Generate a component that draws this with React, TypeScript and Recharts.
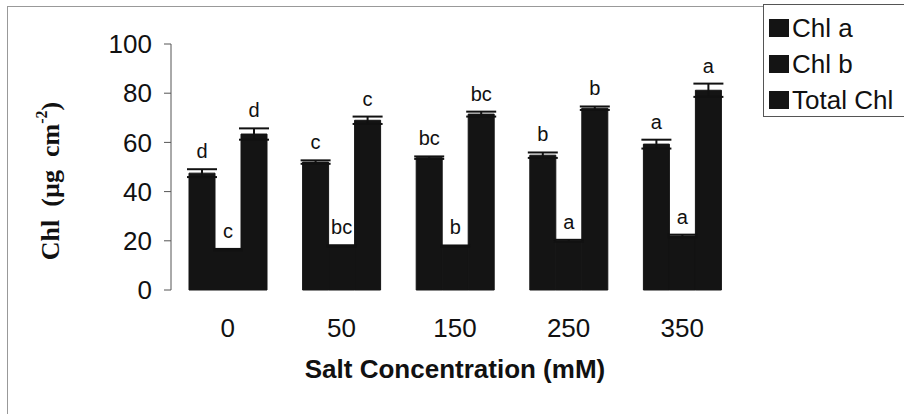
import React from "react";
import {
  BarChart,
  Bar,
  XAxis,
  YAxis,
  ErrorBar,
  LabelList,
  Legend,
  Label,
} from "recharts";

const categories = ["0", "50", "150", "250", "350"];
const chlA = [47.5, 52, 53.8, 54.8, 59.3];
const chlAErr = [1.6, 0.7, 0.5, 1.1, 1.8];
const chlB = [16.4, 17.9, 17.8, 20, 22];
const chlBErr = [0.3, 0.3, 0.3, 0.4, 0.5];
const totalChl = [63.4, 69, 71.5, 73.9, 81.2];
const totalErr = [2.3, 1.5, 1, 0.7, 2.7];
const lettersA = ["d", "c", "bc", "b", "a"];
const lettersB = ["c", "bc", "b", "a", "a"];
const lettersTotal = ["d", "c", "bc", "b", "a"];
const yTicks = [0, 20, 40, 60, 80, 100];
const edgeTicks = [0, 1, 2, 3, 4, 5];

const data = categories.map((c, i) => ({
  conc: c,
  a: chlA[i],
  aErr: chlAErr[i],
  b: chlB[i],
  bErr: chlBErr[i],
  total: totalChl[i],
  totalErr: totalErr[i],
}));

const BAR = "#141414";
const AXIS = "#555";
const FONT = "Arial, 'Liberation Sans', sans-serif";

function letterLabel(letters: string[], values: number[], errs: number[]) {
  return (props: any) => {
    const { x, y, width, height, index } = props;
    const perUnit = height / values[index];
    const top = y - errs[index] * perUnit;
    return (
      <text
        x={x + width / 2}
        y={top - 11}
        textAnchor="middle"
        fontFamily={FONT}
        fontSize={20}
        fill="#111"
      >
        {letters[index]}
      </text>
    );
  };
}

const legendItems = ["Chl a", "Chl b", "Total Chl"];

function LegendBox() {
  return (
    <div
      style={{
        width: 160,
        height: 113,
        border: "1px solid #555",
        background: "#fff",
        boxSizing: "border-box",
        paddingTop: 5,
      }}
    >
      {legendItems.map((t) => (
        <div
          key={t}
          style={{
            display: "flex",
            alignItems: "center",
            height: 36,
            fontFamily: FONT,
            fontSize: 26,
            color: "#111",
            whiteSpace: "nowrap",
          }}
        >
          <span
            style={{
              display: "inline-block",
              width: 20,
              height: 18,
              marginLeft: 5,
              marginRight: 3,
              background: BAR,
            }}
          />
          {t}
        </div>
      ))}
    </div>
  );
}

export default function App() {
  return (
    <div
      style={{
        position: "absolute",
        left: 0,
        top: 0,
        width: 904,
        height: 414,
        background: "#fff",
        overflow: "hidden",
      }}
    >
      <div
        style={{
          position: "absolute",
          left: 7,
          top: 6,
          width: 920,
          height: 430,
          border: "1px solid #999",
        }}
      />
      <div style={{ position: "absolute", left: 0, top: 0 }}>
        <BarChart
          width={904}
          height={414}
          data={data}
          margin={{ top: 44, right: 165, bottom: 24, left: 20 }}
          barCategoryGap={18}
          barGap={0}
        >
          <XAxis
            xAxisId="edge"
            type="number"
            domain={[0, 5]}
            ticks={edgeTicks}
            height={0}
            tick={false}
            stroke={AXIS}
            tickSize={7}
          />
          <XAxis
            xAxisId="cat"
            dataKey="conc"
            height={100}
            axisLine={false}
            tickLine={false}
            tickSize={0}
            tickMargin={29}
            tick={{ fontFamily: FONT, fontSize: 26, fill: "#111" }}
          >
            <Label
              value="Salt Concentration (mM)"
              position="insideBottom"
              offset={12}
              style={{
                fontFamily: FONT,
                fontSize: 26,
                fontWeight: "bold",
                fill: "#111",
              }}
            />
          </XAxis>
          <YAxis
            width={151}
            domain={[0, 100]}
            ticks={yTicks}
            stroke={AXIS}
            tickSize={7}
            tickMargin={12}
            tick={{ fontFamily: FONT, fontSize: 26, fill: "#111" }}
          >
            <Label
              content={(p: any) => {
                const vb = p.viewBox;
                const cx = vb.x + 33;
                const cy = vb.y + vb.height / 2 + 14;
                return (
                  <text
                    x={cx}
                    y={cy}
                    transform={`rotate(-90 ${cx} ${cy})`}
                    textAnchor="middle"
                    dominantBaseline="middle"
                    fontFamily="'Liberation Serif', 'Times New Roman', serif"
                    fontWeight="bold"
                    fontSize={26}
                    fill="#111"
                  >
                    Chl{"\u00a0\u00a0"}(µg{"\u00a0"} cm
                    <tspan dy={-10} fontSize={16}>
                      -2
                    </tspan>
                    <tspan dy={10}>)</tspan>
                  </text>
                );
              }}
            />
          </YAxis>
          <Legend
            layout="horizontal"
            align="center"
            verticalAlign="middle"
            content={() => <LegendBox />}
            wrapperStyle={{ left: 763, top: 4, width: 160, height: 113 }}
          />
          <Bar dataKey="a" name="Chl a" xAxisId="cat" fill={BAR} stroke={BAR} isAnimationActive={false}>
            <ErrorBar dataKey="aErr" direction="y" width={15} stroke="#111" strokeWidth={2} />
            <LabelList dataKey="a" content={letterLabel(lettersA, chlA, chlAErr)} />
          </Bar>
          <Bar dataKey="b" name="Chl b" xAxisId="cat" fill={BAR} stroke={BAR} isAnimationActive={false}>
            <ErrorBar dataKey="bErr" direction="y" width={15} stroke="#111" strokeWidth={2} />
            <LabelList dataKey="b" content={letterLabel(lettersB, chlB, chlBErr)} />
          </Bar>
          <Bar dataKey="total" name="Total Chl" xAxisId="cat" fill={BAR} stroke={BAR} isAnimationActive={false}>
            <ErrorBar dataKey="totalErr" direction="y" width={15} stroke="#111" strokeWidth={2} />
            <LabelList dataKey="total" content={letterLabel(lettersTotal, totalChl, totalErr)} />
          </Bar>
        </BarChart>
      </div>
    </div>
  );
}
